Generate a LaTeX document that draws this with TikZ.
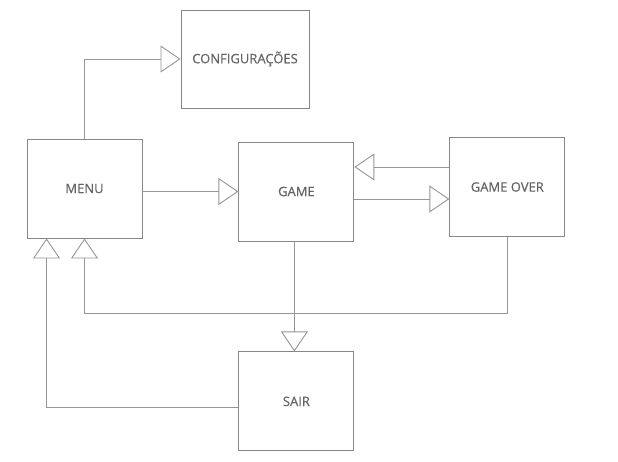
\documentclass[tikz,border=0pt]{standalone}
\usepackage{fontspec}
\setmainfont{Open Sans}[BoldFont={Open Sans},BoldFeatures={FakeBold=0.6}]
\usetikzlibrary{positioning,arrows.meta}
\definecolor{edge}{RGB}{150,150,150}
\definecolor{frame}{RGB}{135,135,135}
\definecolor{ink}{RGB}{100,100,100}
\begin{document}
\begin{tikzpicture}[x=1pt,y=-1pt,
    box/.style={draw=frame,line width=0.9pt,align=center,text=ink,font=\fontsize{13}{15}\selectfont\bfseries,
      minimum width=115pt,minimum height=99pt,inner sep=0pt},
    flow/.style={draw=edge,line width=0.9pt,-{Triangle[open,length=20pt,width=27pt,line width=0.9pt]}}]
    \useasboundingbox[fill=white] (0,0) rectangle (618,461);
    \node[box] (menu) at (84.5,188.5) {MENU};
    \node[box,right=96pt of menu,yshift=-3pt] (game) {GAME};
    \node[box,right=95pt of game,yshift=4.5pt] (over) {GAME OVER};
    \node[box,below=110pt of game] (sair) {SAIR};
    \node[box,minimum width=128pt,minimum height=98pt] (conf) at (245,59) {CONFIGURAÇÕES};
    \coordinate (back) at (0,313);
    % ligacoes
    \draw[flow] (menu.north) |- (conf.west);
    \draw[flow] (menu.east |- game.west) -- (game.west);
    \draw[flow] ([yshift=20pt]over.west) -- ([yshift=20pt]over.west -| game.east);
    \draw[flow] ([yshift=-7.5pt]game.east) -- ([yshift=-7.5pt]game.east -| over.west);
    \draw[flow] ([xshift=-2pt]game.south) -- ([xshift=-2pt]sair.north);
    \draw[flow] (over.south) |- (back -| menu.south) -- (menu.south);
    \draw[flow] ([yshift=-6pt]sair.west) -| ([xshift=20pt]menu.south west);
\end{tikzpicture}
\end{document}
